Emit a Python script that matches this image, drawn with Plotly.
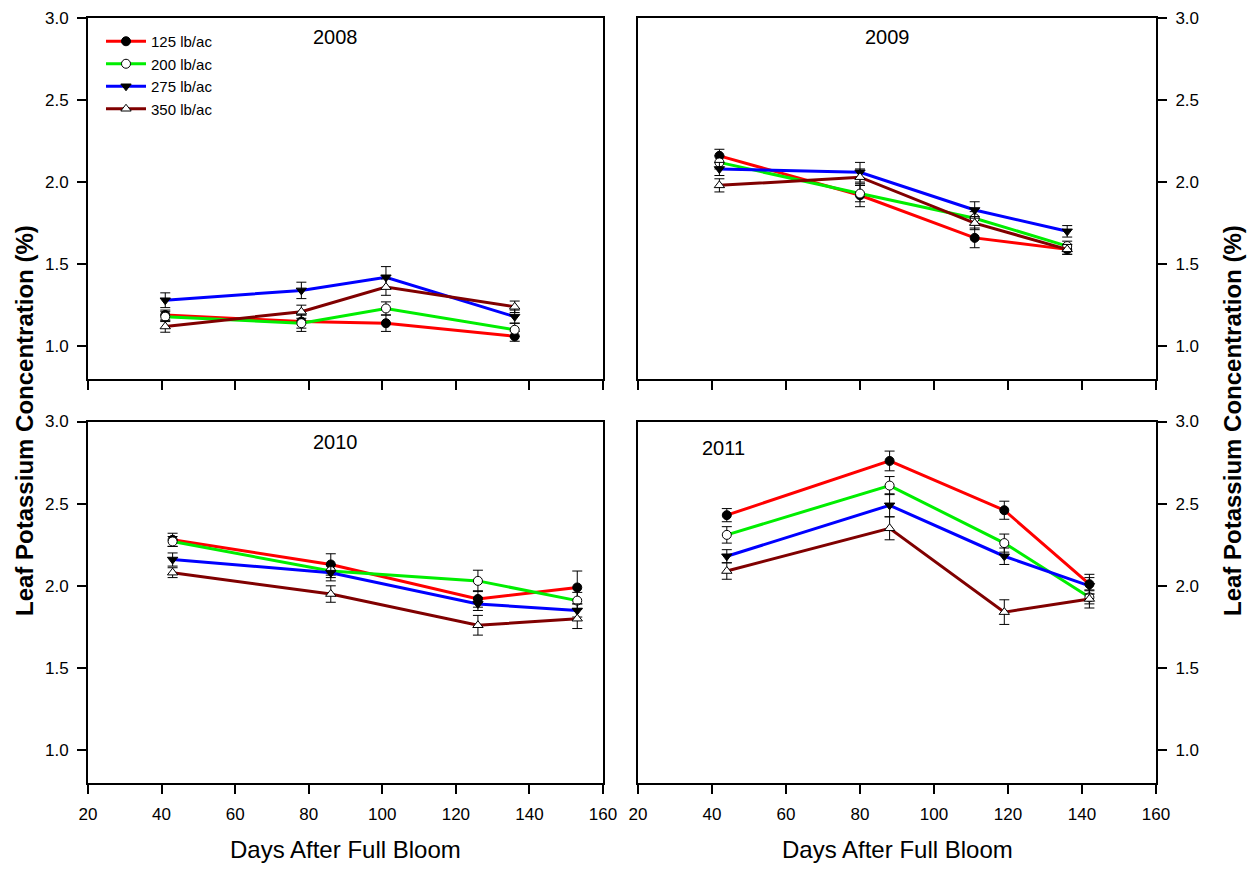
import plotly.graph_objects as go

# ---- data ----
rates = ["125 lb/ac", "200 lb/ac", "275 lb/ac", "350 lb/ac"]
years = ["2008", "2009", "2010", "2011"]

days_2008 = [41, 78, 101, 136]
k125_2008 = [1.19, 1.15, 1.14, 1.06]
k200_2008 = [1.18, 1.14, 1.23, 1.10]
k275_2008 = [1.28, 1.34, 1.42, 1.18]
k350_2008 = [1.12, 1.21, 1.36, 1.24]
e125_2008 = [0.03, 0.04, 0.05, 0.03]
e200_2008 = [0.03, 0.05, 0.04, 0.04]
e275_2008 = [0.045, 0.05, 0.065, 0.04]
e350_2008 = [0.035, 0.04, 0.05, 0.035]

days_2009 = [42, 80, 111, 136]
k125_2009 = [2.16, 1.92, 1.66, 1.59]
k200_2009 = [2.12, 1.93, 1.78, 1.61]
k275_2009 = [2.08, 2.06, 1.83, 1.70]
k350_2009 = [1.98, 2.03, 1.75, 1.59]
e125_2009 = [0.04, 0.07, 0.06, 0.03]
e200_2009 = [0.04, 0.05, 0.04, 0.03]
e275_2009 = [0.04, 0.06, 0.05, 0.035]
e350_2009 = [0.04, 0.05, 0.04, 0.03]

days_2010 = [43, 86, 126, 153]
k125_2010 = [2.28, 2.13, 1.92, 1.99]
k200_2010 = [2.27, 2.09, 2.03, 1.91]
k275_2010 = [2.16, 2.08, 1.89, 1.85]
k350_2010 = [2.08, 1.95, 1.76, 1.80]
e125_2010 = [0.04, 0.065, 0.05, 0.10]
e200_2010 = [0.03, 0.04, 0.065, 0.05]
e275_2010 = [0.04, 0.05, 0.04, 0.04]
e350_2010 = [0.03, 0.05, 0.06, 0.06]

days_2011 = [44, 88, 119, 142]
k125_2011 = [2.43, 2.76, 2.46, 2.01]
k200_2011 = [2.31, 2.61, 2.26, 1.93]
k275_2011 = [2.18, 2.49, 2.18, 2.00]
k350_2011 = [2.09, 2.35, 1.84, 1.92]
e125_2011 = [0.04, 0.06, 0.055, 0.06]
e200_2011 = [0.05, 0.055, 0.055, 0.04]
e275_2011 = [0.04, 0.07, 0.05, 0.05]
e350_2011 = [0.05, 0.07, 0.075, 0.055]

x_ticks = [20, 40, 60, 80, 100, 120, 140, 160]
y_ticks = [1.0, 1.5, 2.0, 2.5, 3.0]

# ---- styles ----
line_colors = ["#FF0000", "#00EE00", "#0000FF", "#800000"]
symbols = ["circle", "circle", "triangle-down", "triangle-up"]
fills = ["black", "white", "black", "white"]
FONT = "Liberation Sans, Arial, sans-serif"

panels = [
    (days_2008, [k125_2008, k200_2008, k275_2008, k350_2008],
     [e125_2008, e200_2008, e275_2008, e350_2008], "x", "y"),
    (days_2009, [k125_2009, k200_2009, k275_2009, k350_2009],
     [e125_2009, e200_2009, e275_2009, e350_2009], "x2", "y2"),
    (days_2010, [k125_2010, k200_2010, k275_2010, k350_2010],
     [e125_2010, e200_2010, e275_2010, e350_2010], "x3", "y3"),
    (days_2011, [k125_2011, k200_2011, k275_2011, k350_2011],
     [e125_2011, e200_2011, e275_2011, e350_2011], "x4", "y4"),
]

fig = go.Figure()
for p, (days, series, errs, xa, ya) in enumerate(panels):
    for i in range(4):
        fig.add_trace(go.Scatter(
            x=days, y=series[i], xaxis=xa, yaxis=ya,
            mode="lines+markers", name=rates[i],
            showlegend=(p == 0), legendrank=i,
            line=dict(color=line_colors[i], width=3),
            marker=dict(symbol=symbols[i], size=9, color=fills[i],
                        line=dict(color="black", width=1)),
            error_y=dict(type="data", array=errs[i], color="black",
                         thickness=1, width=5),
        ))

# page body has an 8px margin; figure sized so the page fits the window
OFF = 8
W, H = 1256 - 2 * OFF, 873 - 2 * OFF
def px_x(v):
    return (v - OFF) / W
def px_y(v):
    return 1 - (v - OFF) / H

xl = [px_x(88), px_x(603)]
xr = [px_x(638), px_x(1156)]
yt = [px_y(379), px_y(18)]
yb = [px_y(783), px_y(421.5)]

tickfont = dict(family=FONT, size=17, color="black")
common_x = dict(range=[20, 160], tickvals=x_ticks, ticks="outside", ticklen=9,
                tickwidth=2, tickcolor="black", showline=True, linewidth=2,
                linecolor="black", mirror=True, showgrid=False, zeroline=False,
                tickfont=tickfont, ticklabelstandoff=6)
common_y = dict(range=[0.8, 3.0], tickvals=y_ticks, tickformat=".1f",
                ticks="outside", ticklen=9, tickwidth=2, tickcolor="black",
                showline=True, linewidth=2, linecolor="black", mirror=True,
                showgrid=False, zeroline=False, tickfont=tickfont,
                ticklabelstandoff=5)

fig.update_layout(
    width=W, height=H, margin=dict(l=0, r=0, t=0, b=0, autoexpand=False),
    paper_bgcolor="white", plot_bgcolor="white",
    font=dict(family=FONT, color="black"),
    xaxis=dict(domain=xl, anchor="y", showticklabels=False, **common_x),
    yaxis=dict(domain=yt, anchor="x", **common_y),
    xaxis2=dict(domain=xr, anchor="y2", showticklabels=False, **common_x),
    yaxis2=dict(domain=yt, anchor="x2", side="right", **common_y),
    xaxis3=dict(domain=xl, anchor="y3", **common_x),
    yaxis3=dict(domain=yb, anchor="x3", **common_y),
    xaxis4=dict(domain=xr, anchor="y4", **common_x),
    yaxis4=dict(domain=yb, anchor="x4", side="right", **common_y),
    legend=dict(x=px_x(101), y=px_y(25), xanchor="left", yanchor="top",
                bgcolor="rgba(0,0,0,0)", borderwidth=0,
                font=dict(family=FONT, size=15, color="black"),
                tracegroupgap=0, itemwidth=40),
    showlegend=True,
)

ann = []
year_pos = [("x", "y", 87.3, 2.885), ("x2", "y2", 87.5, 2.885),
            ("x3", "y3", 87.3, 2.877), ("x4", "y4", 43.0, 2.84)]
for yr, (xa, ya, xv, yv) in zip(years, year_pos):
    ann.append(dict(text=yr, xref=xa, yref=ya, x=xv, y=yv, showarrow=False,
                    font=dict(family=FONT, size=20, color="black"),
                    xanchor="center", yanchor="middle"))
for cx in [345.5, 897]:
    ann.append(dict(text="Days After Full Bloom", xref="paper", yref="paper",
                    x=px_x(cx), y=0, showarrow=False,
                    font=dict(family=FONT, size=24, color="black"),
                    xanchor="center", yanchor="bottom"))
for cx in [24, 1232]:
    ann.append(dict(text="<b>Leaf Potassium Concentration (%)</b>",
                    xref="paper", yref="paper", x=px_x(cx), y=px_y(421),
                    showarrow=False, textangle=-90,
                    font=dict(family=FONT, size=24, color="black"),
                    xanchor="center", yanchor="middle"))
fig.update_layout(annotations=ann)

fig.write_html("out.html")
